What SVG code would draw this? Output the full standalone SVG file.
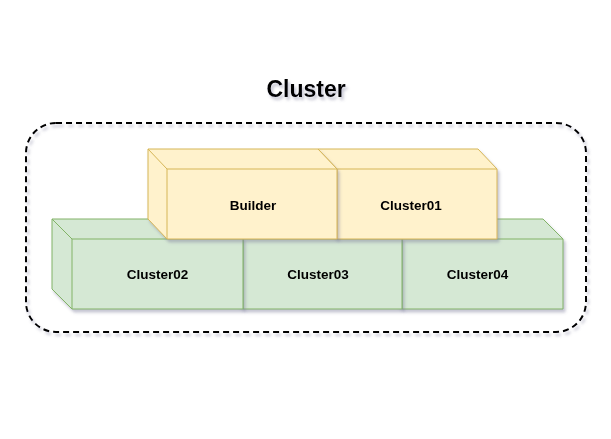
<svg xmlns="http://www.w3.org/2000/svg" width="611" height="439" viewBox="0 0 611 439">
<style>
.lbl{font-family:"Liberation Sans",Arial,sans-serif;font-weight:bold;font-size:13.5px;fill:#000;text-anchor:middle}
.g{fill:#d5e8d4;stroke:#82b366;stroke-width:1}
.y{fill:#fff2cc;stroke:#d6b656;stroke-width:1}
.in{fill:none}
</style>
<defs>
<filter id="sh" x="-10%" y="-10%" width="130%" height="140%">
<feDropShadow dx="2" dy="3" stdDeviation="1.5" flood-color="#7a7a9a" flood-opacity="0.45"/>
</filter>
</defs>
<g id="container">
<rect x="26" y="123" width="560" height="209" rx="30" ry="30" fill="none" stroke="#000" stroke-width="2" stroke-dasharray="6 4" filter="url(#sh)"/>
<text x="306" y="97" font-family="'Liberation Sans',Arial,sans-serif" font-weight="bold" font-size="23" text-anchor="middle" filter="url(#sh)">Cluster</text>
</g>
<g id="cluster04" filter="url(#sh)">
<path class="g" d="M382,219 L543,219 L563,239 L563,309 L402,309 L382,289 Z"/>
<path class="g in" d="M382,219 L402,239 L563,239 M402,239 L402,309"/>
<text class="lbl" x="477.5" y="279">Cluster04</text>
</g>
<g id="cluster03" filter="url(#sh)">
<path class="g" d="M223,219 L382,219 L402,239 L402,309 L243,309 L223,289 Z"/>
<path class="g in" d="M223,219 L243,239 L402,239 M243,239 L243,309"/>
<text class="lbl" x="318" y="279">Cluster03</text>
</g>
<g id="cluster02" filter="url(#sh)">
<path class="g" d="M52,219 L223,219 L243,239 L243,309 L72,309 L52,289 Z"/>
<path class="g in" d="M52,219 L72,239 L243,239 M72,239 L72,309"/>
<text class="lbl" x="157.5" y="279">Cluster02</text>
</g>
<g id="cluster01" filter="url(#sh)">
<path class="y" d="M318,149 L478,149 L497,169 L497,239 L337,239 L318,219 Z"/>
<path class="y in" d="M318,149 L337,169 L497,169 M337,169 L337,239"/>
<text class="lbl" x="411" y="210">Cluster01</text>
</g>
<g id="builder" filter="url(#sh)">
<path class="y" d="M148,149 L318,149 L337,169 L337,239 L167,239 L148,219 Z"/>
<path class="y in" d="M148,149 L167,169 L337,169 M167,169 L167,239"/>
<text class="lbl" x="253" y="210">Builder</text>
</g>
<g id="connectors"></g>
</svg>
